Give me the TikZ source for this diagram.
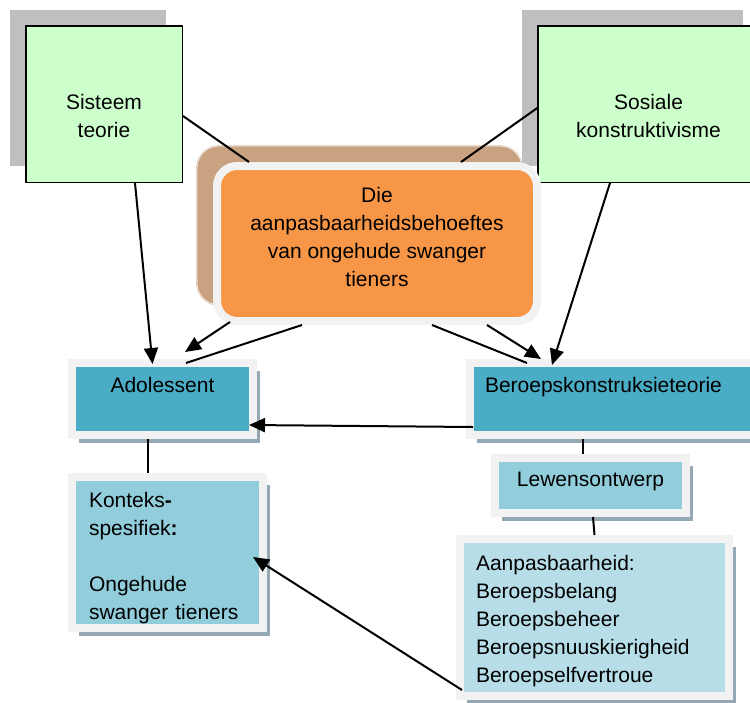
\documentclass[tikz,border=0pt]{standalone}
\usepackage{fontspec}
\setmainfont{Liberation Sans}
\usetikzlibrary{arrows.meta,shadows}
\definecolor{mint}{HTML}{CCFFCC}
\definecolor{shade}{HTML}{BFBFBF}
\definecolor{tanback}{HTML}{C9A282}
\definecolor{peach}{HTML}{F79646}
\definecolor{rim}{HTML}{F2F2F2}
\definecolor{tealbox}{HTML}{4BACC6}
\definecolor{sky}{HTML}{92CDDC}
\definecolor{pale}{HTML}{B7DEE8}
\definecolor{slate}{HTML}{94A9B4}
\begin{document}
\begin{tikzpicture}[x=1pt,y=-1pt,
    every node/.style={font=\fontsize{21}{28}\selectfont},
    theory/.style={draw=black,line width=1.5pt,fill=mint,align=center,inner sep=0pt,
      drop shadow={shadow xshift=-16pt,shadow yshift=16pt,fill=shade,opacity=1}},
    panel/.style={draw=rim,line width=8pt,inner sep=0pt,
      drop shadow={shadow xshift=7pt,shadow yshift=-8pt,fill=slate,opacity=1}},
    link/.style={line width=2pt},
    pointer/.style={link,-{Triangle[length=16pt,width=14pt]}}]
    \useasboundingbox (0,0) rectangle (750,702);
    % theories
    \node [theory,minimum width=156.5pt,minimum height=156.5pt] (sis) at (104,104) {\rule{0pt}{39pt}Sisteem\\teorie};
    \node [theory,minimum width=221pt,minimum height=156.5pt] (sos) at (648.5,104) {\rule{0pt}{39pt}Sosiale\\konstruktivisme};
    % core
    \node [draw=tanback,fill=tanback,double=white,double distance=.6pt,rounded corners=22pt,
      minimum width=325pt,minimum height=159pt] (coreback) at (359.5,225.5) {};
    \node [draw=rim,fill=peach,line width=8pt,rounded corners=20pt,align=center,
      minimum width=320pt,minimum height=155pt] (core) at (377,243.5)
      {Die\\aanpasbaarheidsbehoeftes\\van ongehude swanger\\tieners\rule[-13pt]{0pt}{13pt}};
    % panels
    \node [panel,fill=tealbox,minimum width=181pt,minimum height=72pt,align=center] (ado) at (162.5,399) {Adolessent\rule[-28pt]{0pt}{28pt}};
    \node [panel,fill=tealbox,minimum width=330pt,minimum height=72pt,text width=300pt,align=left] (ber) at (635,399) {Beroepskonstruksieteorie\rule[-28pt]{0pt}{28pt}};
    \node [panel,fill=sky,minimum width=191pt,minimum height=55pt] (lew) at (590.5,485.5) {Lewensontwerp\rule[-12pt]{0pt}{12pt}};
    \node [panel,fill=sky,minimum width=191pt,minimum height=151pt,text width=157pt,align=left] (kon) at (167.5,552.5)
      {\rule{0pt}{26pt}Konteks\textbf{-}\\spesifiek\textbf{:}\\[28pt]Ongehude\\swanger tieners};
    \node [panel,fill=pale,minimum width=269pt,minimum height=157pt,text width=237pt,align=left] (aan) at (594.5,617.5)
      {\rule{0pt}{22pt}Aanpasbaarheid:\\Beroepsbelang\\Beroepsbeheer\\Beroepsnuuskierigheid\\Beroepselfvertroue};
    % connectors
    \draw [pointer] ([xshift=31pt]sis.south) -- ([xshift=-10pt,yshift=-5pt]ado.north);
    \draw [pointer] ([xshift=-38.5pt]sos.south) -- ([xshift=86pt,yshift=-6pt]ber.north west);
    \draw [link] ([yshift=-12pt]sis.east) -- ([xshift=36pt]core.north west);
    \draw [link] ([yshift=-4pt]sos.west) -- ([xshift=-80pt]core.north east);
    \draw [pointer] ([xshift=17pt,yshift=3pt]core.south west) -- ([xshift=22.5pt,yshift=7pt]ado.north);
    \draw [link] ([xshift=23.5pt,yshift=-4pt]ado.north) -- ([xshift=89pt]core.south west);
    \draw [pointer] ([xshift=-54pt]core.south east) -- ([xshift=75pt]ber.north west);
    \draw [link] ([xshift=61pt,yshift=-4pt]ber.north west) -- ([xshift=-109pt]core.south east);
    \draw [pointer] ([xshift=7pt,yshift=12pt]ber.south west) -- ([xshift=-8pt,yshift=14pt]ado.south east);
    \draw [link] ([xshift=-14.5pt]ado.south) -- ([xshift=-19.5pt]kon.north);
    \draw [link] ([xshift=117pt]ber.south west) -- ([xshift=-7.5pt]lew.north);
    \draw [link] ([xshift=2.5pt]lew.south) -- (aan.north);
    \draw [pointer] ([xshift=6pt,yshift=10pt]aan.south west) -- ([xshift=-14pt,yshift=-4.5pt]kon.east);
\end{tikzpicture}
\end{document}
